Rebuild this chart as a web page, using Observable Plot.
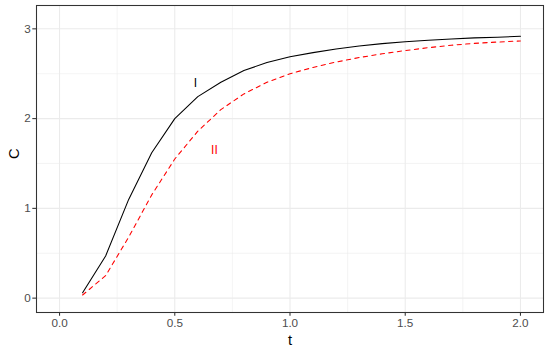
<!DOCTYPE html>
<html>
<head>
<meta charset="utf-8">
<script src="https://cdn.jsdelivr.net/npm/d3@7"></script>
<script src="https://cdn.jsdelivr.net/npm/@observablehq/plot@0.6"></script>
<style>
  html, body { margin: 0; padding: 0; background: #fff; }
  #chart svg { display: block; font-family: "Liberation Sans", Arial, sans-serif; }
</style>
</head>
<body>
<div id="chart"></div>
<script>
const t = [0.1, 0.2, 0.3, 0.4, 0.5, 0.6, 0.7, 0.8, 0.9, 1.0, 1.1, 1.2, 1.3, 1.4, 1.5, 1.6, 1.7, 1.8, 1.9, 2.0];
const cI  = [0.06, 0.47, 1.10, 1.62, 2.00, 2.245, 2.405, 2.535, 2.625, 2.69, 2.735, 2.776, 2.808, 2.835, 2.856, 2.873, 2.887, 2.899, 2.907, 2.917];
const cII = [0.035, 0.25, 0.68, 1.15, 1.55, 1.86, 2.10, 2.275, 2.405, 2.50, 2.57, 2.63, 2.68, 2.722, 2.758, 2.79, 2.817, 2.838, 2.853, 2.865];
const xTicks = [0, 0.5, 1.0, 1.5, 2.0];
const xMinor = [0.25, 0.75, 1.25, 1.75];
const yTicks = [0, 1, 2, 3];
const yMinor = [0.5, 1.5, 2.5];
const labelText = ["I", "II"];
const labelT = [0.59, 0.672];
const labelC = [2.40, 1.65];
const labelColor = ["#000000", "#FF0000"];

const dataI = t.map((d, i) => ({t: d, C: cI[i]}));
const dataII = t.map((d, i) => ({t: d, C: cII[i]}));
const labels = labelText.map((s, i) => ({s, t: labelT[i], C: labelC[i], color: labelColor[i]}));

const chart = Plot.plot({
  width: 548,
  height: 352,
  marginLeft: 36,
  marginRight: 5,
  marginTop: 5,
  marginBottom: 40,
  style: {fontFamily: "'Liberation Sans', Arial, sans-serif", background: "#fff"},
  x: {domain: [-0.1, 2.1]},
  y: {domain: [-0.16, 3.26]},
  color: {type: "identity"},
  marks: [
    Plot.gridX(xMinor, {stroke: "#EBEBEB", strokeOpacity: 1, strokeWidth: 0.53}),
    Plot.gridY(yMinor, {stroke: "#EBEBEB", strokeOpacity: 1, strokeWidth: 0.53}),
    Plot.gridX(xTicks, {stroke: "#EBEBEB", strokeOpacity: 1, strokeWidth: 1.07}),
    Plot.gridY(yTicks, {stroke: "#EBEBEB", strokeOpacity: 1, strokeWidth: 1.07}),
    Plot.lineY(dataI, {x: "t", y: "C", stroke: "black", strokeWidth: 1.07}),
    Plot.lineY(dataII, {x: "t", y: "C", stroke: "red", strokeWidth: 1.07, strokeDasharray: "4.3,4.3"}),
    Plot.text(labels, {x: "t", y: "C", text: "s", fill: "color", fontSize: 12}),
    Plot.frame({stroke: "#333333", strokeWidth: 1.07}),
    Plot.axisX({ticks: xTicks, tickFormat: d => d.toFixed(1), tickSize: 3.7, tickPadding: 2.5, fontSize: 11.7, stroke: "#333333", strokeWidth: 1.07, fill: "#4D4D4D", label: null}),
    Plot.axisY({ticks: yTicks, tickFormat: d => String(d), tickSize: 3.7, tickPadding: 2, fontSize: 11.7, stroke: "#333333", strokeWidth: 1.07, fill: "#4D4D4D", label: null}),
    Plot.text(["t"], {frameAnchor: "bottom", dy: 27.5, text: d => d, fontSize: 14.7, fill: "black", lineAnchor: "middle"}),
    Plot.text(["C"], {frameAnchor: "left", dx: -22.7, text: d => d, fontSize: 14.7, fill: "black", rotate: -90, lineAnchor: "middle"})
  ]
});
document.getElementById("chart").appendChild(chart);
</script>
</body>
</html>
